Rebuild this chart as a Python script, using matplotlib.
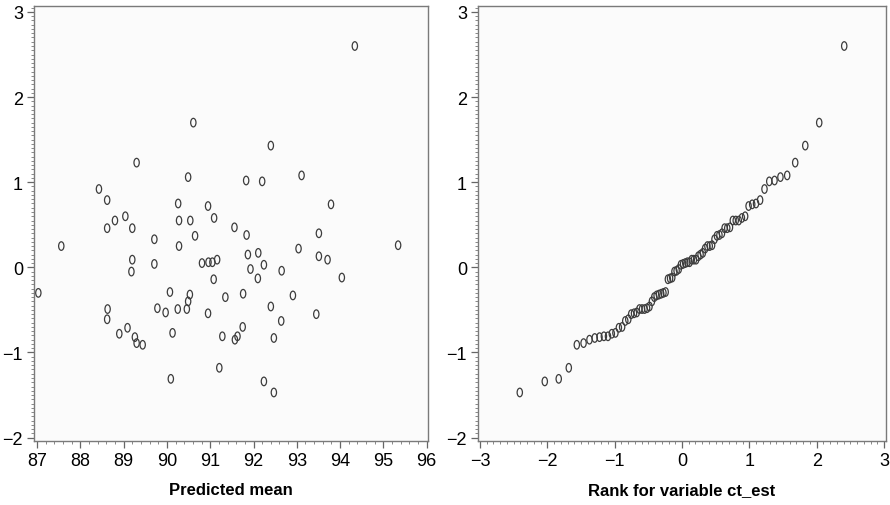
import numpy as np
import matplotlib
matplotlib.use("Agg")
import matplotlib.pyplot as plt
from matplotlib.path import Path
from matplotlib.transforms import Affine2D
from matplotlib.ticker import MultipleLocator
from statistics import NormalDist

plt.rcParams['font.family'] = ['Liberation Sans', 'DejaVu Sans']

# predicted mean and residual for each observation
pred_mean = [87.03, 87.56, 88.43, 88.62, 88.62, 88.80, 89.04, 89.20, 89.30, 89.71,
             90.26, 90.28, 90.28, 90.49, 90.54, 90.61, 90.65, 90.95, 91.09, 94.34,
             92.40, 91.83, 92.20, 93.11, 93.79, 91.56, 91.84, 93.51, 95.34, 93.04,
             92.11, 89.20, 89.18, 89.71, 90.07, 90.53, 90.49, 90.46, 90.25, 89.97,
             89.78, 88.63, 88.62, 89.09, 88.90, 89.26, 89.30, 89.44, 90.13, 90.09,
             90.81, 90.96, 91.05, 91.16, 91.08, 90.95, 91.35, 91.28, 91.21, 91.87,
             91.93, 92.24, 92.10, 92.65, 93.51, 93.71, 94.04, 91.76, 92.91, 92.40,
             93.45, 92.64, 91.75, 91.63, 91.57, 92.47, 92.24, 92.47]
residual = [-0.30, 0.25, 0.92, 0.79, 0.46, 0.55, 0.60, 0.46, 1.23, 0.33,
            0.75, 0.55, 0.25, 1.06, 0.55, 1.70, 0.37, 0.72, 0.58, 2.60,
            1.43, 1.02, 1.01, 1.08, 0.74, 0.47, 0.38, 0.40, 0.26, 0.22,
            0.17, 0.09, -0.05, 0.04, -0.29, -0.32, -0.40, -0.49, -0.49, -0.53,
            -0.48, -0.49, -0.61, -0.71, -0.78, -0.82, -0.89, -0.91, -0.77, -1.31,
            0.05, 0.06, 0.06, 0.09, -0.14, -0.54, -0.35, -0.81, -1.18, 0.15,
            -0.02, 0.03, -0.13, -0.04, 0.13, 0.09, -0.12, -0.31, -0.33, -0.46,
            -0.55, -0.63, -0.70, -0.81, -0.85, -0.83, -1.34, -1.47]

# normal scores of the ranks (Blom), as PROC RANK gives them
res_sorted = np.sort(residual)
n = len(res_sorted)
ranks = np.arange(1, n + 1)
scores = [NormalDist().inv_cdf((r - 0.375) / (n + 0.25)) for r in ranks]

# open, slightly tall "0" shaped marker
oval = Path.unit_circle().transformed(Affine2D().scale(0.62, 1.0))

fig = plt.figure(figsize=(8.9, 5.06), dpi=100)
ax1 = fig.add_axes([34 / 890, 64 / 506, 394 / 890, 435 / 506])
ax2 = fig.add_axes([478 / 890, 64 / 506, 408 / 890, 435 / 506])

mk = dict(marker=oval, s=38, facecolors='none', edgecolors='#3c3c3c', linewidths=0.9)
ax1.scatter(pred_mean, residual, **mk)
ax2.scatter(scores, res_sorted, **mk)

ax1.set_xlim(86.93, 96.03)
ax1.xaxis.set_major_locator(MultipleLocator(1))
ax1.xaxis.set_minor_locator(MultipleLocator(0.2))
ax1.set_xlabel('Predicted mean', fontsize=12, fontweight='bold', labelpad=9)

ax2.set_xlim(-3.03, 3.03)
ax2.xaxis.set_major_locator(MultipleLocator(1))
ax2.xaxis.set_minor_locator(MultipleLocator(0.1))
ax2.set_xlabel('Rank for variable ct_est', fontsize=12, fontweight='bold', labelpad=9)

for ax in (ax1, ax2):
    ax.set_facecolor('#fbfbfb')
    ax.set_ylim(-2.04, 3.07)
    ax.yaxis.set_major_locator(MultipleLocator(1))
    ax.yaxis.set_minor_locator(MultipleLocator(0.05))
    for sp in ax.spines.values():
        sp.set_color('#7a7a7a')
        sp.set_linewidth(1.0)
    ax.tick_params(which='major', length=5, width=0.9, color='#666666',
                   labelsize=13, pad=3)
    ax.tick_params(which='minor', length=2.5, width=0.7, color='#888888')

fig.savefig('out.png', dpi=100, facecolor='white')
